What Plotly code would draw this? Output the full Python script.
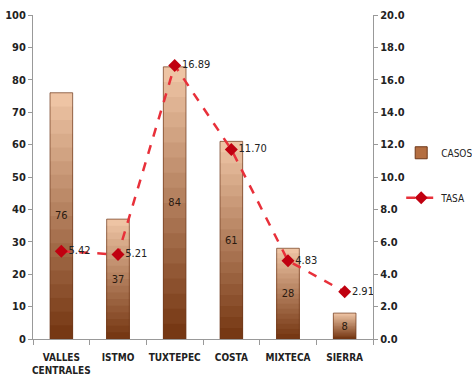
import plotly.graph_objects as go

regiones = ["VALLES<br>CENTRALES", "ISTMO", "TUXTEPEC", "COSTA", "MIXTECA", "SIERRA"]
casos = [76, 37, 84, 61, 28, 8]
tasa = [5.42, 5.21, 16.89, 11.70, 4.83, 2.91]

FONT = "DejaVu Sans Condensed, Liberation Sans Narrow, sans-serif"

# gradient from light (top) to dark (bottom)
light = (238, 196, 164)
dark = (118, 56, 20)
N = 18
fig = go.Figure()
for k in range(N, 0, -1):
    t = (k - 1) / (N - 1)
    c = tuple(int(dark[i] + (light[i] - dark[i]) * t) for i in range(3))
    frac = k / N
    fig.add_trace(go.Bar(
        x=regiones, y=[v * frac for v in casos],
        marker=dict(color="rgb(%d,%d,%d)" % c, line=dict(width=0)),
        width=0.4, showlegend=False, hoverinfo="skip",
    ))

fig.add_trace(go.Bar(
    x=regiones, y=casos, name="CASOS",
    marker=dict(color="rgba(0,0,0,0)", line=dict(color="rgba(110,55,25,0.7)", width=1)),
    width=0.4,
    text=[str(v) for v in casos], textposition="inside", insidetextanchor="middle",
    textfont=dict(family=FONT, size=11, color="#2a1a10"),
    showlegend=False,
))
fig.add_trace(go.Bar(
    x=[None], y=[None], name="CASOS", legendgroup="a",
    marker=dict(color="rgb(180,110,65)", line=dict(color="rgb(110,55,25)", width=1)),
))

fig.add_trace(go.Scatter(
    x=regiones, y=tasa, name="TASA", yaxis="y2", legendgroup="b",
    mode="lines+markers+text", cliponaxis=False,
    line=dict(color="#E8303A", width=2.5, dash="dash"),
    marker=dict(symbol="diamond", size=10, color="#C00010"),
    text=["%.2f" % v for v in tasa], textposition="middle right",
    textfont=dict(family=FONT, size=11, color="#222222"),
))

fig.update_layout(
    width=472, height=381,
    margin=dict(l=33, r=99, t=15, b=42, autoexpand=False),
    plot_bgcolor="white", paper_bgcolor="white",
    barmode="overlay", bargap=0.6,
    font=dict(family=FONT, size=11, color="#222222"),
    xaxis=dict(
        showline=True, linecolor="#999999", linewidth=1, tickangle=0, automargin=False,
        ticks="outside", ticklen=5, tickcolor="#999999", tickson="boundaries",
        ticklabelstandoff=9,
        tickfont=dict(family=FONT, size=10, color="#222222", weight="bold"),
        showgrid=False,
    ),
    yaxis=dict(
        range=[0, 100], dtick=10, showline=True, linecolor="#999999", linewidth=1,
        automargin=False,
        ticks="outside", ticklen=4, tickcolor="#999999", showgrid=False, zeroline=False,
        tickfont=dict(family=FONT, size=11, color="#222222", weight="bold"),
    ),
    yaxis2=dict(
        range=[0, 20], dtick=2, tickformat=".1f", overlaying="y", side="right",
        showline=True, linecolor="#999999", linewidth=1, automargin=False,
        ticks="outside", ticklen=4, tickcolor="#999999", showgrid=False, zeroline=False,
        tickfont=dict(family=FONT, size=11, color="#222222", weight="bold"),
    ),
    legend=dict(xref="container", yref="container", x=0.85, y=0.54,
                yanchor="middle", xanchor="left",
                font=dict(family=FONT, size=10, color="#222222"),
                tracegroupgap=26, itemwidth=30, bgcolor="rgba(0,0,0,0)"),
)

fig.write_html("out.html", config={"displayModeBar": False},
               post_script="document.body.style.margin='0';document.body.style.overflow='hidden';")
